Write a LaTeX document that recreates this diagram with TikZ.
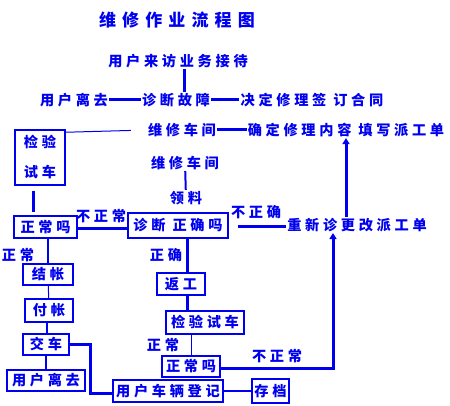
\documentclass[tikz,border=0pt]{standalone}
\usepackage{fontspec}
\usetikzlibrary{arrows.meta}
\newfontfamily\cjkfont{Noto Sans CJK SC}[LetterSpace=26]
\newfontfamily\cjktitlefont{Noto Sans CJK SC}[LetterSpace=36]
\definecolor{FlowBlue}{HTML}{0000F0}

\begin{document}
\begin{tikzpicture}[x=1pt, y=-1pt,
    word/.style={text=FlowBlue, font=\cjkfont\bfseries\fontsize{14.2}{16}\selectfont,
      inner xsep=1pt, inner ysep=1pt},
    stage/.style={word, draw=FlowBlue, line width=1.5pt, inner sep=0pt, minimum height=22pt},
    heavy/.style={draw=FlowBlue, line width=3pt},
    medium/.style={draw=FlowBlue, line width=2pt},
    light/.style={draw=FlowBlue, line width=1pt},
    flow/.style={heavy, -{Triangle[length=6pt,width=7pt]}}
  ]
    \useasboundingbox (0,0) rectangle (450,406);
    % top part
    \node[word, font=\cjktitlefont\bfseries\fontsize{17}{20}\selectfont] (title) at (177,20) {维修作业流程图};
    \node[word] (visit) at (178,61) {用户来访业务接待};
    \node[word] (fault) at (176,100) {诊断故障};
    \node[word] (leave) at (74,100) {用户离去};
    \node[word] (contract) at (312,100) {决定修理签 订合同};
    \node[word] (shop) at (182,130) {维修车间};
    \node[word] (worksheet) at (346,130) {确定修理内容 填写派工单};
    \node[stage, minimum width=50pt, minimum height=55pt, align=center,
      font=\cjkfont\bfseries\fontsize{14.2}{30}\selectfont] (check) at (40,157.5) {检验\\试车};
    \node[word] (shoptwo) at (185,163) {维修车间};
    \node[word] (parts) at (186,198) {领料};
    % middle part
    \node[stage, minimum width=63pt] (okay) at (45.5,227) {正常吗};
    \node[word] at (101,216) {不正常};
    \node[stage, minimum width=100pt, minimum height=25pt] (verify) at (178,225.5) {诊断 正确吗};
    \node[word] at (256,212) {不正确};
    \node[word] (redo) at (357,225) {重新诊更改派工单};
    \node[word] at (18,255) {正常};
    \node[word] at (166,255) {正确};
    % bottom part
    \node[stage, minimum width=50pt, minimum height=21pt] (settle) at (48,274.5) {结帐};
    \node[stage, minimum width=48pt, minimum height=23pt] (pay) at (49,310.5) {付帐};
    \node[stage, minimum width=46pt, minimum height=21pt] (handover) at (46,344.5) {交车};
    \node[stage, minimum width=78pt, minimum height=21pt] (gone) at (46,380.5) {用户离去};
    \node[stage, minimum width=110pt] (register) at (168,391) {用户车辆登记};
    \node[stage, minimum width=37pt, minimum height=24pt] (archive) at (270.5,391) {存档};
    \node[stage, minimum width=48pt] (rework) at (181,284) {返工};
    \node[stage, minimum width=78pt, minimum height=23pt] (retest) at (205,322.5) {检验试车};
    \node[word] at (163,345) {正常};
    \node[stage, minimum width=58pt, minimum height=21pt] (okaytwo) at (191,366.5) {正常吗};
    \node[word] at (277,356) {不正常};
    % connectors
    \draw[heavy] ([xshift=6pt]visit.south) -- ([xshift=6pt]visit.south |- fault.north);
    \draw[heavy] (leave) -- (fault);
    \draw[heavy] (fault) -- (contract);
    \draw[heavy] (shop) -- (worksheet);
    \draw[light, shorten >=16pt] ([yshift=-3pt]check.north east) -- (shop.west);
    \draw[heavy, shorten <=5pt, shorten >=3pt] ([xshift=-7pt]check.south) -- ([xshift=-7pt]check.south |- okay.north);
    \draw[heavy] ([yshift=-2pt]okay.east) -- ([yshift=-2pt]okay.east -| verify.west);
    \draw[heavy, shorten <=9pt] ([yshift=-1.5pt]verify.east) -- ([yshift=-1.5pt]verify.east -| redo.west);
    \draw[flow] (redo.north -| worksheet.south) -- (worksheet.south);
    \draw[flow] ([yshift=-1.5pt]okaytwo.east) -| ([xshift=-24pt]redo.south);
    \draw[medium] (shoptwo) -- (parts);
    \draw[medium] (okay.south -| settle.north) -- (settle.north);
    \draw[light] (settle) -- (pay);
    \draw[medium] ([xshift=-2pt]pay.south) -- ([xshift=-2pt]pay.south |- handover.north);
    \draw[medium] (handover.south) -- (gone.north);
    \draw[heavy] (handover.east) -- ++(21,0) |- ([yshift=-2pt]register.west);
    \draw[medium] (register) -- (archive);
    \draw[heavy] ([xshift=6pt]rework.north |- verify.south) -- ([xshift=6pt]rework.north);
    \draw[heavy] ([xshift=6pt]rework.south) -- ([xshift=6pt]rework.south |- retest.north);
    \draw[light] (retest.south -| okaytwo.north) -- (okaytwo.north);
\end{tikzpicture}
\end{document}
